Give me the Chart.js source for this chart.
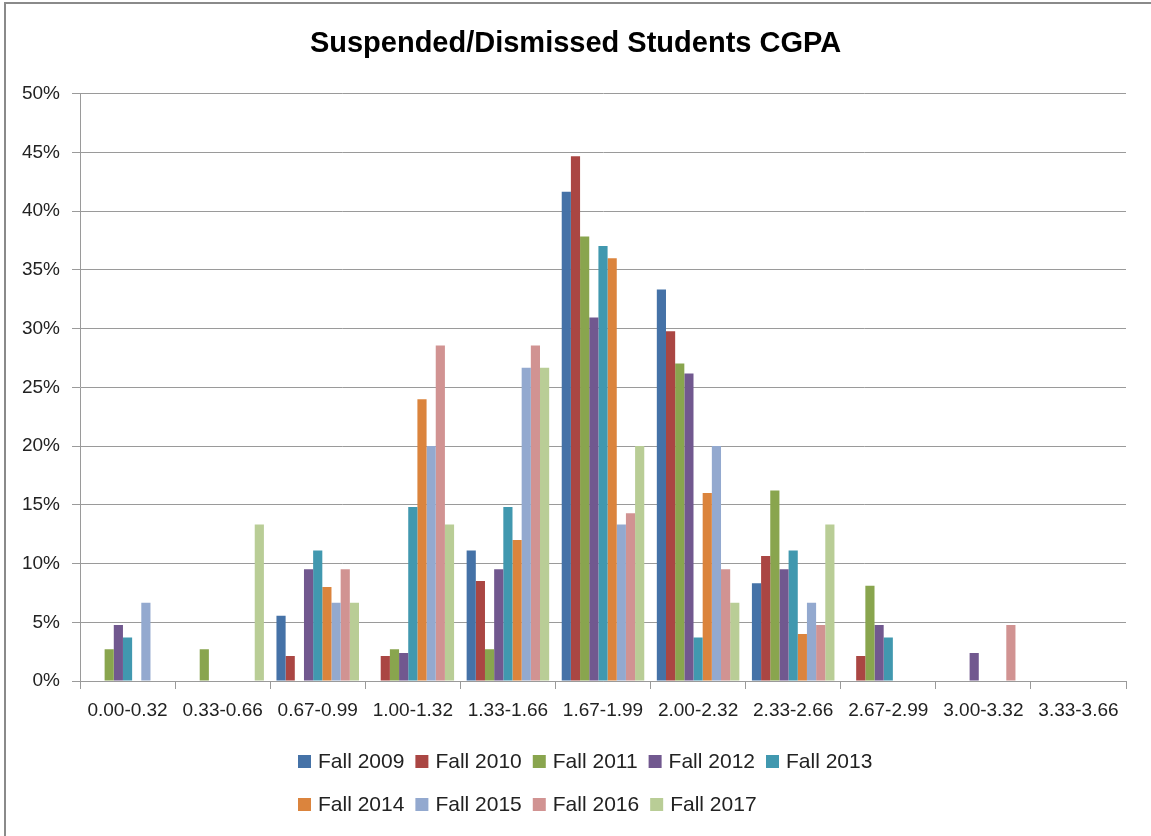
<!DOCTYPE html>
<html>
<head>
<meta charset="utf-8">
<script src="https://cdn.jsdelivr.net/npm/chart.js@4.4.0/dist/chart.umd.min.js"></script>
<style>
  html, body { margin: 0; padding: 0; background: #fff; }
  #wrap { position: relative; width: 1151px; height: 836px; }
  #frame { position: absolute; left: 4px; top: 2px; width: 1160px; height: 900px;
           border-left: 2px solid #8a8a8a; border-top: 2px solid #8a8a8a; pointer-events: none; }
</style>
</head>
<body>
<div id="wrap">
  <canvas id="cgpa_chart" width="1151" height="836"></canvas>
  <div id="frame"></div>
</div>
<script>
const CATEGORIES = ["0.00-0.32", "0.33-0.66", "0.67-0.99", "1.00-1.32", "1.33-1.66",
  "1.67-1.99", "2.00-2.32", "2.33-2.66", "2.67-2.99", "3.00-3.32", "3.33-3.66"];

// percentages per CGPA band
const FALL_2009 = [0, 0, 5.56, 0, 11.11, 41.67, 33.33, 8.33, 0, 0, 0];
const FALL_2010 = [0, 0, 2.13, 2.13, 8.51, 44.68, 29.79, 10.64, 2.13, 0, 0];
const FALL_2011 = [2.70, 2.70, 0, 2.70, 2.70, 37.84, 27.03, 16.22, 8.11, 0, 0];
const FALL_2012 = [4.76, 0, 9.52, 2.38, 9.52, 30.95, 26.19, 9.52, 4.76, 2.38, 0];
const FALL_2013 = [3.70, 0, 11.11, 14.81, 14.81, 37.04, 3.70, 11.11, 3.70, 0, 0];
const FALL_2014 = [0, 0, 8, 24, 12, 36, 16, 4, 0, 0, 0];
const FALL_2015 = [6.67, 0, 6.67, 20, 26.67, 13.33, 20, 6.67, 0, 0, 0];
const FALL_2016 = [0, 0, 9.52, 28.57, 28.57, 14.29, 9.52, 4.76, 0, 4.76, 0];
const FALL_2017 = [0, 13.33, 6.67, 13.33, 26.67, 20, 6.67, 13.33, 0, 0, 0];

const SERIES = [
  ["Fall 2009", FALL_2009], ["Fall 2010", FALL_2010], ["Fall 2011", FALL_2011],
  ["Fall 2012", FALL_2012], ["Fall 2013", FALL_2013], ["Fall 2014", FALL_2014],
  ["Fall 2015", FALL_2015], ["Fall 2016", FALL_2016], ["Fall 2017", FALL_2017]
];

const COLORS = [
  "#4572a7", "#aa4643", "#89a54e", "#71588f", "#4198af",
  "#db843d", "#93a9cf", "#d19392", "#b9cd96"
];

const GRID = "#9a9a9a";
const TEXT = "#222";

Chart.defaults.font.family = "'Liberation Sans', Arial, sans-serif";
Chart.defaults.color = TEXT;

// Excel-like legend: two left-aligned rows (5 + 4)
const excelLegend = {
  id: 'excelLegend',
  afterDraw(chart) {
    const ctx = chart.ctx;
    const rows = [[0, 1, 2, 3, 4], [5, 6, 7, 8]];
    const rowY = [761, 804];
    ctx.save();
    ctx.font = "21px 'Liberation Sans', Arial, sans-serif";
    ctx.textBaseline = 'middle';
    rows.forEach((row, r) => {
      let x = 298;
      row.forEach(i => {
        const ds = chart.data.datasets[i];
        ctx.fillStyle = ds.backgroundColor;
        ctx.fillRect(x, rowY[r] - 6, 13, 13);
        ctx.fillStyle = TEXT;
        ctx.fillText(ds.label, x + 20, rowY[r] + 1);
        x += 20 + ctx.measureText(ds.label).width + 11;
      });
    });
    ctx.restore();
  }
};

new Chart(document.getElementById('cgpa_chart'), {
  type: 'bar',
  data: {
    labels: CATEGORIES,
    datasets: SERIES.map((s, i) => ({
      label: s[0],
      data: s[1],
      backgroundColor: COLORS[i],
      categoryPercentage: 0.868,
      barPercentage: 1.0
    }))
  },
  options: {
    responsive: false,
    animation: false,
    layout: {
      padding: { left: 0, right: 0, top: 0, bottom: 95 }
    },
    plugins: {
      legend: { display: false },
      tooltip: { enabled: false },
      title: {
        display: true,
        text: 'Suspended/Dismissed Students CGPA',
        color: '#000',
        font: { size: 29, weight: 'bold' },
        padding: { top: 27, bottom: 32 }
      }
    },
    scales: {
      x: {
        grid: { display: true, drawOnChartArea: false, drawTicks: true, tickLength: 8, color: GRID },
        border: { color: GRID },
        ticks: { font: { size: 19 }, color: TEXT, padding: 10, maxRotation: 0, autoSkip: false },
        afterFit(scale) { scale.height = 60; }
      },
      y: {
        min: 0,
        max: 50,
        grid: { color: GRID, tickLength: 8 },
        border: { color: GRID },
        ticks: {
          stepSize: 5,
          font: { size: 19 },
          color: TEXT,
          padding: 12,
          callback: v => v + '%'
        },
        afterFit(scale) { scale.width = 80; }
      },
      // empty spacer on the right so the title centres on the full width
      spacer: {
        position: 'right',
        grid: { display: false },
        border: { display: false },
        ticks: { display: false },
        afterFit(scale) { scale.width = 25; }
      }
    }
  },
  plugins: [excelLegend]
});
</script>
</body>
</html>
